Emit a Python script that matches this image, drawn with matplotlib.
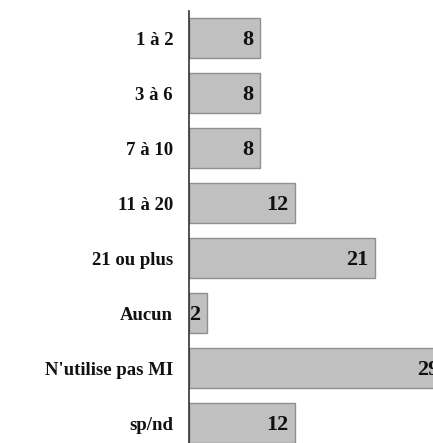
import matplotlib
matplotlib.use("Agg")
import matplotlib.pyplot as plt

categories = ["1 à 2", "3 à 6", "7 à 10", "11 à 20", "21 ou plus", "Aucun", "N'utilise pas MI", "sp/nd"]
values = [8, 8, 8, 12, 21, 2, 29, 12]

W, H = 433, 443
fig = plt.figure(figsize=(W / 100, H / 100), dpi=100)
px_per_unit = 8.85
x0 = 189
xmax = 31
ax_w = xmax * px_per_unit
top = 10.5
ax_h = 440
ax = fig.add_axes([x0 / W, 1 - (top + ax_h) / H, ax_w / W, ax_h / H])

font = "Liberation Serif"
y = list(range(len(categories)))
ax.barh(y, values, height=0.73, color="#c0c0c0", edgecolor="#8f8f8f", linewidth=1)
for yi, v in zip(y, values):
    ax.text(v - 0.75, yi + 0.03, str(v), ha="right", va="center", fontsize=16,
            fontweight="bold", family=font, color="#111111")

ax.set_xlim(0, xmax)
ax.set_ylim(len(categories) - 0.5, -0.5)
ax.set_yticks(y)
ax.set_yticklabels(categories, fontsize=13.5, fontweight="bold", family=font, color="#111111")
ax.tick_params(axis="y", length=0, pad=11.5)
ax.set_xticks([])
for s in ["top", "right", "bottom"]:
    ax.spines[s].set_visible(False)
ax.spines["left"].set_color("#333333")
ax.spines["left"].set_linewidth(1.2)

fig.savefig("out.png", dpi=100)
